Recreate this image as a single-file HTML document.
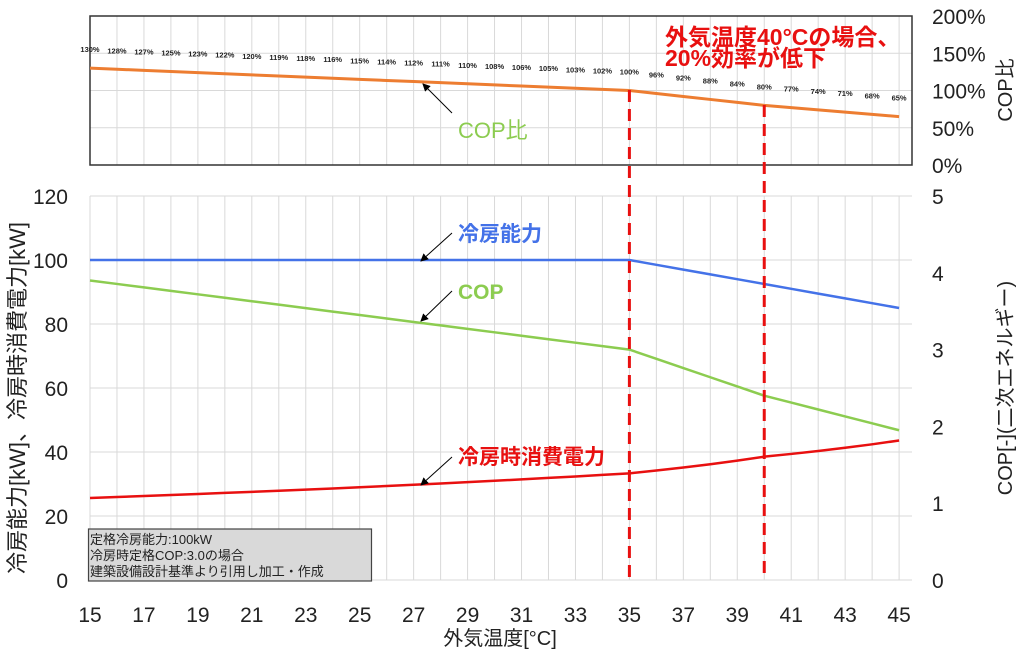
<!DOCTYPE html>
<html><head><meta charset="utf-8"><style>
html,body{margin:0;padding:0;background:#fff}
svg{display:block;font-family:"Liberation Sans","Noto Sans CJK JP",sans-serif}
</style></head><body>
<svg id="s" width="1024" height="654" viewBox="0 0 1024 654" xmlns="http://www.w3.org/2000/svg">
<defs><marker id="ar" markerWidth="8" markerHeight="8" refX="7" refY="4" orient="auto"><path d="M0,0L8,4L0,8z" fill="#000"/></marker></defs>
<g id="g"></g>
</svg>
<script>
var g=document.getElementById('g'),h='';
function X(t){return 90+(t-15)*26.97;}
var r=[130,128,127,125,123,122,120,119,118,116,115,114,112,111,110,108,106,105,103,102,100,96,92,88,84,80,77,74,71,68,65];
function R(t){return t<=35?130-1.5*(t-15):r[t-15];}
for(var t=15;t<=45;t++){h+='<line x1="'+X(t)+'" y1="16" x2="'+X(t)+'" y2="165" stroke="#d9d9d9" stroke-width="1"/>';}
for(var p=50;p<200;p+=50){var y=165-p*0.745;h+='<line x1="90" y1="'+y+'" x2="912" y2="'+y+'" stroke="#d9d9d9"/>';}
h+='<rect x="90" y="16" width="822" height="149" fill="none" stroke="#333" stroke-width="1.5"/>';
for(var t=15;t<=45;t++){h+='<line x1="'+X(t)+'" y1="196" x2="'+X(t)+'" y2="580" stroke="#d9d9d9"/>';}
for(var v=20;v<=120;v+=20){var y=580-v*3.2;h+='<line x1="90" y1="'+y+'" x2="912" y2="'+y+'" stroke="#d9d9d9"/>';}
h+='<line x1="90" y1="580" x2="912" y2="580" stroke="#d9d9d9"/>';
var pts=[],cop=[],cap=[],pw=[];
for(var i=0;i<r.length;i++){var t=15+i,x=X(t),rr=R(t);
 pts.push(x+','+(165-rr*0.745));
 var c=3*rr/100;cop.push(x+','+(580-c*76.8));
 var k=t<=35?100:100-(t-35)*1.5;cap.push(x+','+(580-k*3.2));
 pw.push(x+','+(580-(k/c)*3.2));
 h+='<text x="'+x+'" y="'+(165-rr*0.745-16)+'" font-size="7.5" font-weight="bold" text-anchor="middle" fill="#222">'+r[i]+'%</text>';
}
h+='<polyline points="'+pts.join(' ')+'" fill="none" stroke="#ed7d31" stroke-width="3"/>';
h+='<polyline points="'+cap.join(' ')+'" fill="none" stroke="#4472e8" stroke-width="2.5"/>';
h+='<polyline points="'+cop.join(' ')+'" fill="none" stroke="#8ccc50" stroke-width="2.5"/>';
h+='<polyline points="'+pw.join(' ')+'" fill="none" stroke="#e81010" stroke-width="2.5"/>';
h+='<line x1="'+X(35)+'" y1="90" x2="'+X(35)+'" y2="580" stroke="#e81010" stroke-width="3" stroke-dasharray="12,7"/>';
h+='<line x1="'+X(40)+'" y1="105" x2="'+X(40)+'" y2="580" stroke="#e81010" stroke-width="3" stroke-dasharray="12,7"/>';
for(var t=15;t<=45;t+=2)h+='<text x="'+X(t)+'" y="622" font-size="21" text-anchor="middle" fill="#222">'+t+'</text>';
for(var v=0;v<=120;v+=20)h+='<text x="68" y="'+(580-v*3.2+8)+'" font-size="21" text-anchor="end" fill="#222">'+v+'</text>';
for(var v=0;v<=5;v++)h+='<text x="932" y="'+(580-v*76.8+8)+'" font-size="21" fill="#222">'+v+'</text>';
for(var p=0;p<=200;p+=50)h+='<text x="932" y="'+(165-p*0.745+8)+'" font-size="21" fill="#222">'+p+'%</text>';
h+='<text x="500" y="645" font-size="20" text-anchor="middle" fill="#222">外気温度[°C]</text>';
h+='<text transform="translate(25,398) rotate(-90)" font-size="22" text-anchor="middle" fill="#222">冷房能力[kW]、冷房時消費電力[kW]</text>';
h+='<text transform="translate(1012,388) rotate(-90)" font-size="20" text-anchor="middle" fill="#222">COP[-](二次エネルギー)</text>';
h+='<text transform="translate(1012,90) rotate(-90)" font-size="20" text-anchor="middle" fill="#222">COP比</text>';
h+='<text x="458" y="138" font-size="22" fill="#8ccc50">COP比</text>';
h+='<line x1="452" y1="113" x2="423" y2="84" stroke="#000" marker-end="url(#ar)"/>';
h+='<text x="458" y="241" font-size="21" font-weight="bold" fill="#4472e8">冷房能力</text>';
h+='<line x1="452" y1="233" x2="421" y2="261" stroke="#000" marker-end="url(#ar)"/>';
h+='<text x="458" y="299" font-size="21" font-weight="bold" fill="#8ccc50">COP</text>';
h+='<line x1="452" y1="291" x2="421" y2="321" stroke="#000" marker-end="url(#ar)"/>';
h+='<text x="458" y="464" font-size="21" font-weight="bold" fill="#e81010">冷房時消費電力</text>';
h+='<line x1="452" y1="457" x2="421" y2="485" stroke="#000" marker-end="url(#ar)"/>';
h+='<text x="665" y="45" font-size="23" font-weight="bold" fill="#e81010">外気温度40°Cの場合、</text>';
h+='<text x="665" y="66" font-size="23" font-weight="bold" fill="#e81010">20%効率が低下</text>';
h+='<rect x="88.5" y="529" width="283" height="52" fill="#d9d9d9" stroke="#444" stroke-width="1.2"/>';
h+='<text x="90" y="544" font-size="13" fill="#222">定格冷房能力:100kW</text>';
h+='<text x="90" y="560" font-size="13" fill="#222">冷房時定格COP:3.0の場合</text>';
h+='<text x="90" y="576" font-size="13" fill="#222">建築設備設計基準より引用し加工・作成</text>';
g.innerHTML=h;
</script>
</body></html>
